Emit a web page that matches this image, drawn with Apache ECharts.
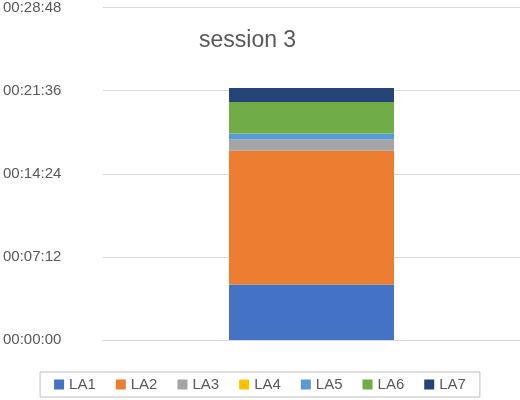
<!DOCTYPE html><html><head><meta charset="utf-8"><script src="https://cdn.jsdelivr.net/npm/echarts@6/dist/echarts.min.js"></script></head><body style="margin:0"><div id="c" style="width:520px;height:400px"></div><script>
const categories=['session 3'];
const seriesNames=['LA1','LA2','LA3','LA4','LA5','LA6','LA7'];
const seriesValues=[[288],[695],[59],[0],[31],[164],[72]];
const colors=['#4472C4','#ED7D31','#A5A5A5','#FFC000','#5B9BD5','#70AD47','#264478'];
function fmt(v){const h=Math.floor(v/3600),m=Math.floor(v%3600/60),s=v%60;const p=x=>String(x).padStart(2,'0');return p(h)+':'+p(m)+':'+p(s);}
const chart=echarts.init(document.getElementById('c'));
chart.setOption({
title:{text:'session 3',left:194,top:24,textStyle:{fontSize:23,fontWeight:'normal',color:'#595959',fontFamily:'Liberation Sans'}},
legend:{bottom:3,left:'center',itemWidth:10,itemHeight:10,itemGap:20,borderColor:'#bfbfbf',borderWidth:1,padding:[5,14],icon:'rect',textStyle:{fontSize:15,color:'#595959'}},
grid:{left:98,right:0,top:7,bottom:60},
xAxis:{type:'category',data:categories,axisLabel:{show:false},axisTick:{show:false},axisLine:{lineStyle:{color:'#d9d9d9'}}},
yAxis:{type:'value',min:0,max:1728,interval:432,axisLabel:{formatter:fmt,fontSize:15,color:'#595959',margin:100,align:'left'},splitLine:{lineStyle:{color:'#d9d9d9'}}},
series:seriesNames.map((n,i)=>({name:n,type:'bar',stack:'a',barWidth:165,data:seriesValues[i],itemStyle:{color:colors[i]}}))
});
</script></body></html>
